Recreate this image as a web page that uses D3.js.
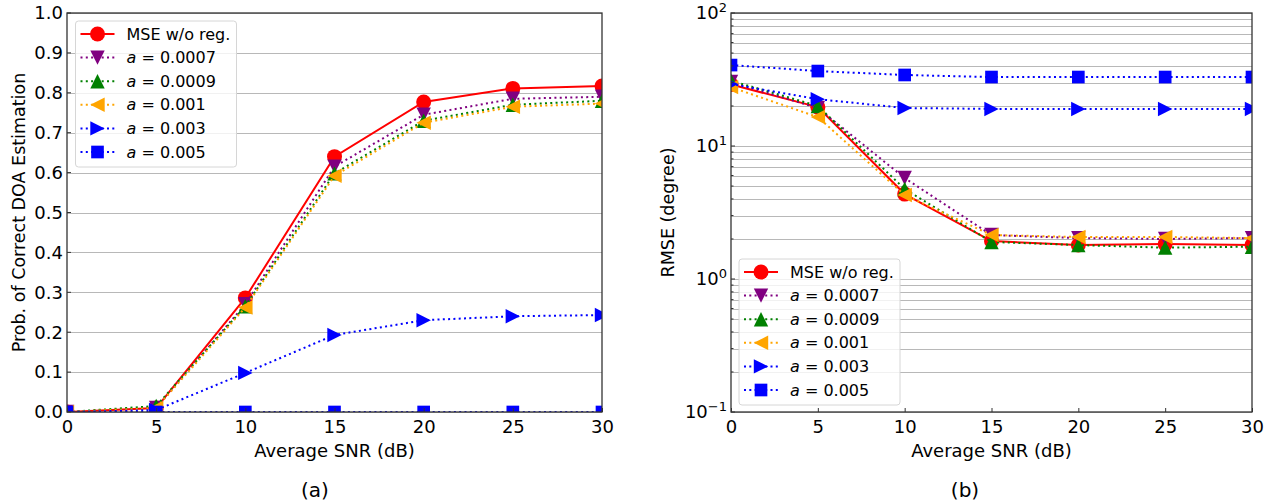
<!DOCTYPE html>
<html>
<head>
<meta charset="utf-8">
<script src="https://cdn.jsdelivr.net/npm/d3@7"></script>
<style>
  body { margin: 0; background: #fff; }
  svg { display: block; font-family: "DejaVu Sans", sans-serif; }
  .grid line { stroke: #b0b0b0; stroke-width: 0.9; }
</style>
</head>
<body>
<script>
// SNR points shared by both panels
var snr = [0, 5, 10, 15, 20, 25, 30];

// legend entries and styles order
var names = ["MSE w/o reg.", "0.0007", "0.0009", "0.001", "0.003", "0.005"];
var colors = ["#ff0000", "#800080", "#008000", "#ffa500", "#0000ff", "#0000ff"];
var markers = ["circle", "tdown", "tup", "tleft", "tright", "square"];

// (a) probability of correct DOA estimation
var probMse    = [0.000, 0.010, 0.286, 0.640, 0.777, 0.811, 0.817];
var prob0007   = [0.000, 0.010, 0.270, 0.615, 0.745, 0.785, 0.790];
var prob0009   = [0.000, 0.015, 0.265, 0.598, 0.730, 0.770, 0.780];
var prob001    = [0.000, 0.010, 0.262, 0.592, 0.725, 0.765, 0.773];
var prob003    = [0.000, 0.005, 0.098, 0.193, 0.230, 0.240, 0.243];
var prob005    = [0.000, 0.000, 0.000, 0.000, 0.000, 0.000, 0.000];

// (b) RMSE in degrees
var rmseMse    = [29.0, 19.6, 4.35, 1.93, 1.80, 1.83, 1.80];
var rmse0007   = [30.3, 19.3, 5.74, 2.14, 2.03, 2.00, 2.03];
var rmse0009   = [31.0, 20.0, 4.75, 1.90, 1.80, 1.72, 1.75];
var rmse001    = [27.7, 16.5, 4.28, 2.14, 2.07, 2.07, 2.03];
var rmse003    = [29.2, 22.5, 19.3, 19.0, 19.0, 19.0, 19.0];
var rmse005    = [40.6, 36.6, 34.2, 33.0, 33.0, 33.0, 33.0];

var xTicks = [0, 5, 10, 15, 20, 25, 30];
var probTicks = [0, 0.1, 0.2, 0.3, 0.4, 0.5, 0.6, 0.7, 0.8, 0.9, 1.0];
var rmseTicks = [0.1, 1, 10, 100];

var probSeries = [probMse, prob0007, prob0009, prob001, prob003, prob005];
var rmseSeries = [rmseMse, rmse0007, rmse0009, rmse001, rmse003, rmse005];

var W = 1269, H = 502, FS = 18;

var svg = d3.select("body").append("svg")
    .attr("width", W)
    .attr("height", H);

// marker shapes in the matplotlib style
function markerPath(type, r) {
    var p = d3.path();
    if (type == "circle") {
        p.arc(0, 0, r, 0, 2 * Math.PI);
    } else if (type == "square") {
        var s = r * 0.88;
        p.rect(-s, -s, 2 * s, 2 * s);
    } else {
        var pts;
        if (type == "tup") pts = [[0, -r], [-r, r], [r, r]];
        if (type == "tdown") pts = [[0, r], [-r, -r], [r, -r]];
        if (type == "tleft") pts = [[-r, 0], [r, -r], [r, r]];
        if (type == "tright") pts = [[r, 0], [-r, -r], [-r, r]];
        p.moveTo(pts[0][0], pts[0][1]);
        p.lineTo(pts[1][0], pts[1][1]);
        p.lineTo(pts[2][0], pts[2][1]);
        p.closePath();
    }
    return p.toString();
}

function markerSize(type) {
    return type == "circle" ? 7.5 : 7.2;
}

function dash(i) {
    return i == 0 ? null : "2,3.3";
}

function drawPanel(opt) {
    var g = svg.append("g");
    var x = d3.scaleLinear().domain([0, 30]).range([opt.left, opt.right]);
    var y = opt.y;

    var clipId = "clip" + opt.id;
    svg.append("clipPath").attr("id", clipId)
        .append("rect")
        .attr("x", opt.left).attr("y", opt.top)
        .attr("width", opt.right - opt.left)
        .attr("height", opt.bottom - opt.top);

    // horizontal grid
    g.append("g").attr("class", "grid")
        .selectAll("line").data(opt.gridVals).enter().append("line")
        .attr("x1", opt.left).attr("x2", opt.right)
        .attr("y1", function (d) { return Math.round(y(d)) + 0.5; })
        .attr("y2", function (d) { return Math.round(y(d)) + 0.5; });

    // series
    var plot = g.append("g").attr("clip-path", "url(#" + clipId + ")");
    var line = d3.line()
        .x(function (d, i) { return x(snr[i]); })
        .y(function (d) { return y(d); });

    opt.series.forEach(function (vals, i) {
        plot.append("path")
            .attr("d", line(vals))
            .attr("fill", "none")
            .attr("stroke", colors[i])
            .attr("stroke-width", 2)
            .attr("stroke-dasharray", dash(i));
        plot.selectAll(".m" + i)
            .data(vals).enter().append("path")
            .attr("class", "m" + i)
            .attr("transform", function (d, j) {
                return "translate(" + x(snr[j]) + "," + y(d) + ")";
            })
            .attr("d", markerPath(markers[i], markerSize(markers[i])))
            .attr("fill", colors[i]);
    });

    // x axis ticks and labels
    var xa = g.append("g").attr("transform", "translate(0," + opt.bottom + ")")
        .call(d3.axisBottom(x).tickValues(xTicks).tickSizeInner(-4).tickSizeOuter(0).tickPadding(8));
    xa.select(".domain").remove();
    xa.selectAll("text").attr("font-size", FS).attr("fill", "#000").attr("font-family", "DejaVu Sans");
    xa.selectAll("line").attr("stroke", "#333");

    // y axis ticks
    var ya = g.append("g").attr("transform", "translate(" + opt.left + ",0)");
    ya.selectAll("line.major").data(opt.yTicks).enter().append("line")
        .attr("x1", 0).attr("x2", 4)
        .attr("y1", function (d) { return y(d); })
        .attr("y2", function (d) { return y(d); })
        .attr("stroke", "#333");
    if (opt.minor) {
        ya.selectAll("line.minor").data(opt.minor).enter().append("line")
            .attr("x1", 0).attr("x2", 2.5)
            .attr("y1", function (d) { return y(d); })
            .attr("y2", function (d) { return y(d); })
            .attr("stroke", "#333");
    }
    opt.yLabels(ya, y);

    // frame
    g.append("rect")
        .attr("x", opt.left).attr("y", opt.top)
        .attr("width", opt.right - opt.left)
        .attr("height", opt.bottom - opt.top)
        .attr("fill", "none").attr("stroke", "#333").attr("stroke-width", 1.3);

    // axis titles
    g.append("text")
        .attr("x", (opt.left + opt.right) / 2).attr("y", 457)
        .attr("text-anchor", "middle").attr("font-size", FS)
        .text("Average SNR (dB)");
    g.append("text")
        .attr("transform", "translate(" + opt.ylabelX + "," + (opt.top + opt.bottom) / 2 + ") rotate(-90)")
        .attr("text-anchor", "middle").attr("dy", "0.35em").attr("font-size", 17.5)
        .text(opt.ylabel);
    g.append("text")
        .attr("x", opt.captionX).attr("y", 497)
        .attr("text-anchor", "middle").attr("font-size", 20)
        .text(opt.caption);

    // legend
    var lg = g.append("g").attr("transform", "translate(" + opt.legX + "," + opt.legY + ")");
    lg.append("rect")
        .attr("x", 0).attr("y", 0).attr("width", 161).attr("height", 146)
        .attr("rx", 3).attr("fill", "#fff").attr("fill-opacity", 0.8)
        .attr("stroke", "#d6d6d6").attr("stroke-width", 1);
    names.forEach(function (nm, i) {
        var cy = 13 + i * 23.6;
        lg.append("line")
            .attr("x1", 5).attr("x2", 39).attr("y1", cy).attr("y2", cy)
            .attr("stroke", colors[i]).attr("stroke-width", 2)
            .attr("stroke-dasharray", dash(i));
        lg.append("path")
            .attr("transform", "translate(22," + cy + ")")
            .attr("d", markerPath(markers[i], markerSize(markers[i])))
            .attr("fill", colors[i]);
        var t = lg.append("text")
            .attr("x", 51).attr("y", cy).attr("dy", "0.35em")
            .attr("font-size", 16);
        if (i == 0) {
            t.text(nm);
        } else {
            t.append("tspan").attr("font-style", "italic").text("a");
            t.append("tspan").text(" = " + nm);
        }
    });
}

// (a)
drawPanel({
    id: "a", left: 67, right: 602, top: 13, bottom: 412,
    y: d3.scaleLinear().domain([0, 1]).range([412, 13]),
    series: probSeries,
    gridVals: probTicks,
    yTicks: probTicks,
    yLabels: function (ya, y) {
        ya.selectAll("text").data(probTicks).enter().append("text")
            .attr("x", -4).attr("y", function (d) { return y(d); })
            .attr("dy", "0.35em").attr("text-anchor", "end")
            .attr("font-size", FS)
            .text(function (d) { return d3.format(".1f")(d); });
    },
    ylabel: "Prob. of Correct DOA Estimation", ylabelX: 19,
    caption: "(a)", captionX: 315,
    legX: 75.5, legY: 21
});

// (b)
var rmseMinor = [];
[0.1, 1, 10].forEach(function (base) {
    for (var k = 2; k <= 9; k++) rmseMinor.push(base * k);
});

drawPanel({
    id: "b", left: 731, right: 1252, top: 13, bottom: 412,
    y: d3.scaleLog().domain([0.1, 100]).range([412, 13]),
    series: rmseSeries,
    gridVals: rmseTicks.concat(rmseMinor),
    yTicks: rmseTicks,
    minor: rmseMinor,
    yLabels: function (ya, y) {
        var exps = ["\u22121", "0", "1", "2"];
        rmseTicks.forEach(function (d, i) {
            var t = ya.append("text")
                .attr("x", -4).attr("y", y(d))
                .attr("dy", "0.35em").attr("text-anchor", "end")
                .attr("font-size", FS);
            t.append("tspan").text("10");
            t.append("tspan").attr("font-size", 13).attr("dy", "-0.55em").text(exps[i]);
        });
    },
    ylabel: "RMSE (degree)", ylabelX: 668,
    caption: "(b)", captionX: 965,
    legX: 739, legY: 259
});
</script>
</body>
</html>
